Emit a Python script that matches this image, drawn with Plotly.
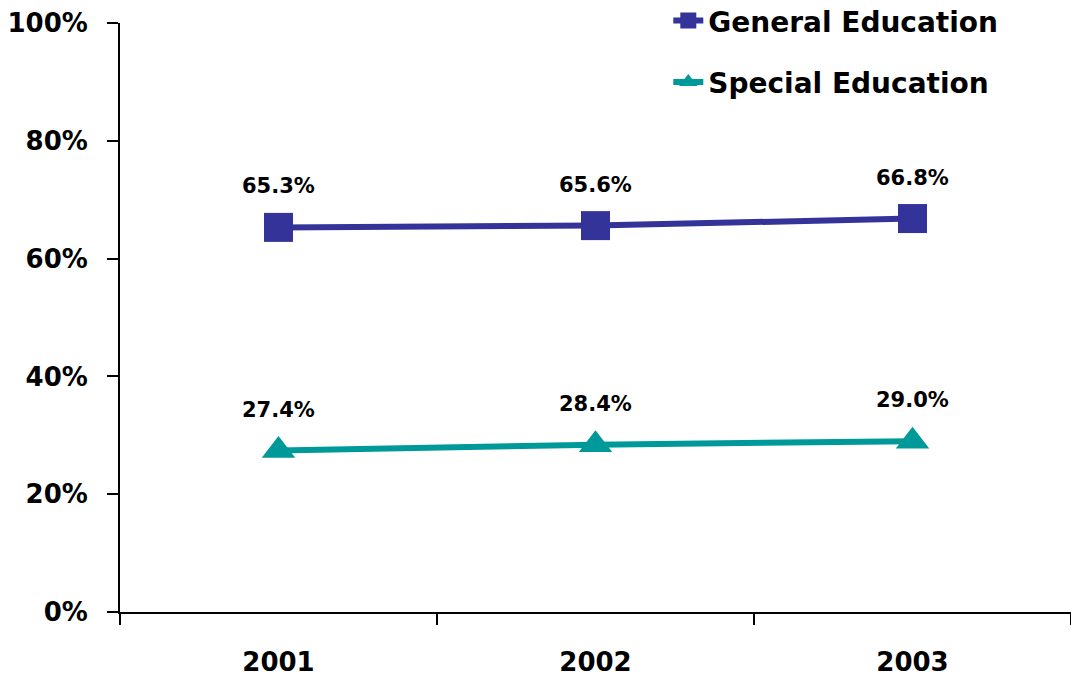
import plotly.graph_objects as go

years = ["2001", "2002", "2003"]
general_ed = [65.3, 65.6, 66.8]
special_ed = [27.4, 28.4, 29.0]
y_ticks = [0, 20, 40, 60, 80, 100]
y_tick_labels = ["0%", "20%", "40%", "60%", "80%", "100%"]

GEN_COLOR = "#333399"
SPE_COLOR = "#009999"
FONT = "'DejaVu Sans', sans-serif"

fig = go.Figure()
fig.add_trace(go.Scatter(
    x=years, y=general_ed, name="General Education", mode="lines+markers",
    line=dict(color=GEN_COLOR, width=6),
    marker=dict(symbol="square", size=29, color=GEN_COLOR),
    legendgroup="g1",
))
fig.add_trace(go.Scatter(
    x=years, y=special_ed, name="Special Education", mode="lines+markers",
    line=dict(color=SPE_COLOR, width=6),
    marker=dict(symbol="triangle-up", size=29, color=SPE_COLOR),
    legendgroup="g2",
))

# value labels above each point
for series in (general_ed, special_ed):
    for i, v in enumerate(series):
        fig.add_annotation(
            xref="x", yref="y", x=i, y=v, text=f"{v:.1f}%", showarrow=False,
            yshift=41,
            font=dict(family=FONT, size=21, color="black", weight="bold"),
        )

fig.update_layout(
    width=1071, height=679,
    margin=dict(l=120, r=0, t=23, b=67, autoexpand=False),
    paper_bgcolor="white", plot_bgcolor="white",
    font=dict(family=FONT, color="black"),
    showlegend=True,
    legend=dict(
        xref="container", yref="paper",
        x=0.624, y=1.046, xanchor="left", yanchor="top",
        traceorder="grouped", tracegroupgap=22,
        font=dict(family=FONT, size=28, color="black", weight="bold"),
        bgcolor="rgba(0,0,0,0)",
    ),
    xaxis=dict(
        type="category", range=[-0.5, 2.5],
        tickson="boundaries", ticks="outside", ticklen=11, tickwidth=2,
        tickcolor="black", showline=True, linecolor="black", linewidth=2,
        showgrid=False, zeroline=False,
        tickfont=dict(family=FONT, size=26, color="black", weight="bold"),
        ticklabelstandoff=26,
    ),
    yaxis=dict(
        range=[0, 100], tickvals=y_ticks, ticktext=y_tick_labels,
        ticks="outside", ticklen=11, tickwidth=2, tickcolor="black",
        showline=True, linecolor="black", linewidth=2,
        showgrid=False, zeroline=False,
        tickfont=dict(family=FONT, size=26, color="black", weight="bold"),
        ticklabelstandoff=14,
    ),
)

fig.write_html("out.html")
